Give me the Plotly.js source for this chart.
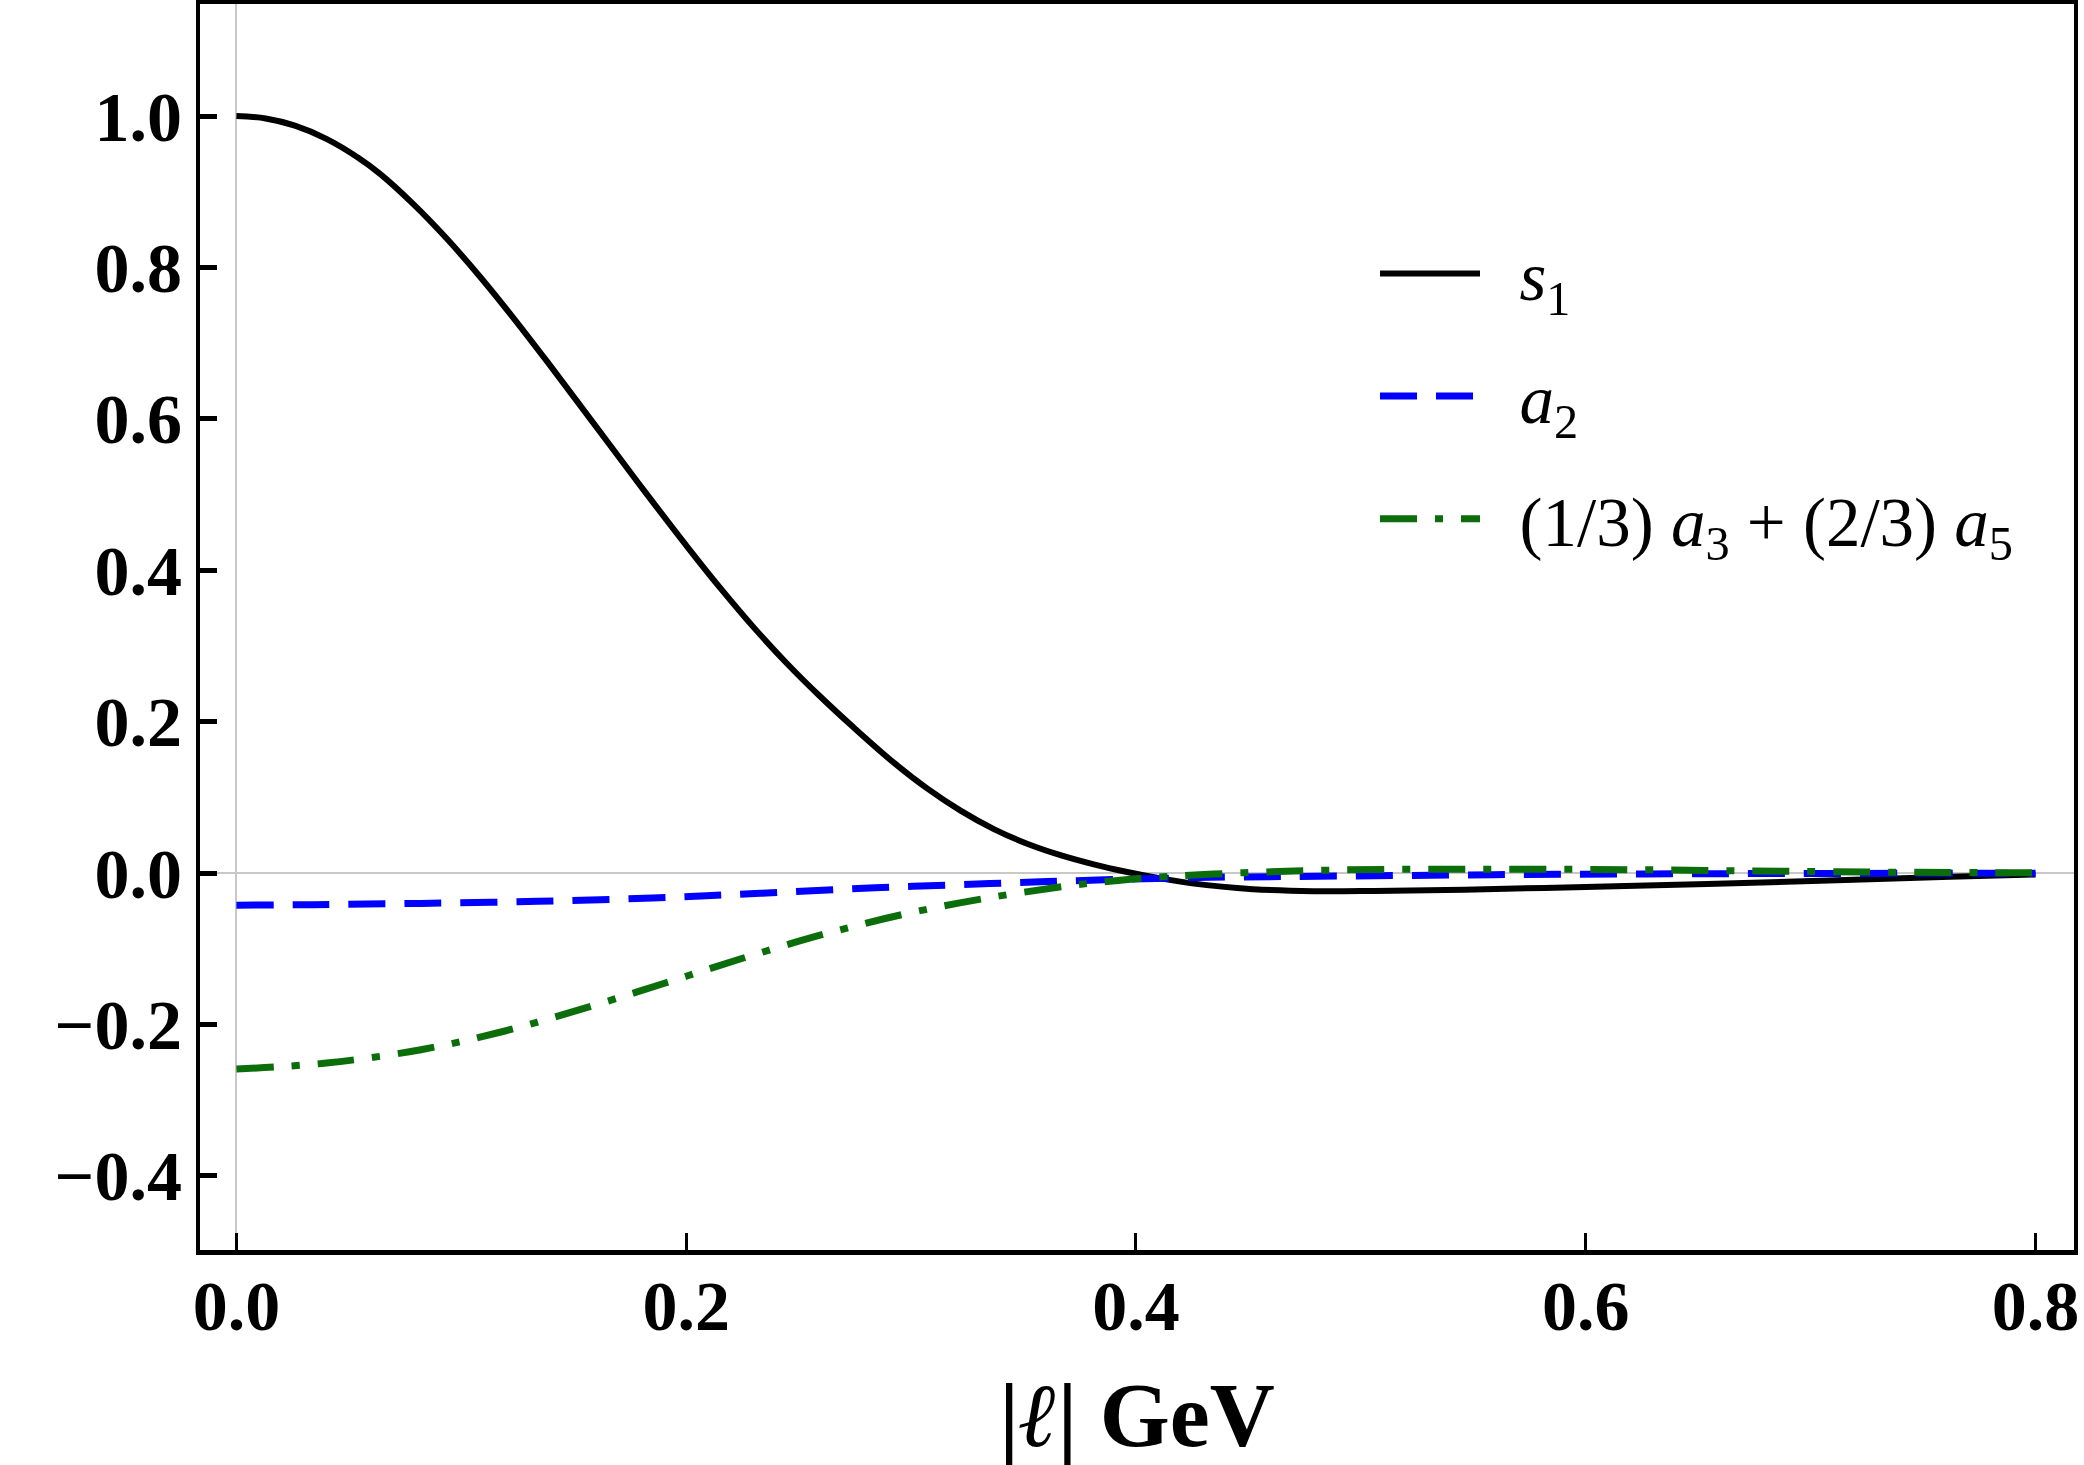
<!DOCTYPE html>
<html>
<head>
<meta charset="utf-8">
<script src="https://cdn.plot.ly/plotly-3.0.1.min.js"></script>
<style>html,body{margin:0;padding:0;background:#fff;}</style>
</head>
<body>
<div id="chart" style="width:2084px;height:1465px;"></div>
<script>
// ---- data ----
const s1X = [0, 0.013, 0.026, 0.040, 0.054, 0.064, 0.0789, 0.0937, 0.1085, 0.1233, 0.1382, 0.153, 0.1678, 0.1782, 0.1856, 0.2004, 0.2152, 0.230, 0.2449, 0.2597, 0.2745, 0.2923, 0.3071, 0.322, 0.3368, 0.3516, 0.3664, 0.3812, 0.3961, 0.408, 0.425, 0.452, 0.479, 0.506, 0.546, 0.600, 0.654, 0.708, 0.762, 0.800];
const s1Y = [1.000, 0.9968, 0.9873, 0.9699, 0.9453, 0.9233, 0.8830, 0.8375, 0.7871, 0.7328, 0.6755, 0.6171, 0.5584, 0.5173, 0.4883, 0.4313, 0.3763, 0.3245, 0.2765, 0.2328, 0.1921, 0.1458, 0.1118, 0.0824, 0.0580, 0.0387, 0.0236, 0.0115, 0.0014, -0.0055, -0.0137, -0.0213, -0.0240, -0.0237, -0.0220, -0.0184, -0.0145, -0.0100, -0.0050, -0.0020];

const a2X = [0, 0.034, 0.082, 0.134, 0.185, 0.233, 0.284, 0.335, 0.383, 0.433, 0.492, 0.559, 0.627, 0.694, 0.762, 0.800];
const a2Y = [-0.0425, -0.0418, -0.0401, -0.0374, -0.0330, -0.0268, -0.0195, -0.0140, -0.0092, -0.0057, -0.0040, -0.0022, -0.0012, -0.0006, -0.0004, -0.0004];

const a35X = [0, 0.040, 0.082, 0.119, 0.156, 0.190, 0.224, 0.261, 0.298, 0.335, 0.372, 0.392, 0.410, 0.448, 0.485, 0.523, 0.561, 0.599, 0.636, 0.674, 0.710, 0.748, 0.786, 0.800];
const a35Y = [-0.259, -0.251, -0.2334, -0.2090, -0.1775, -0.1459, -0.1136, -0.0810, -0.0536, -0.0325, -0.0162, -0.0098, -0.0053, 0.0004, 0.0037, 0.0050, 0.0051, 0.0048, 0.0040, 0.0027, 0.0017, 0.0009, 0.0004, 0.0003];

const seriesNames = [
  '<i>s</i><sub>1</sub>',
  '<i>a</i><sub>2</sub>',
  '(1/3) <i>a</i><sub>3</sub> + (2/3) <i>a</i><sub>5</sub>'
];
const xTicks = [0, 0.2, 0.4, 0.6, 0.8];
const yTicks = [-0.4, -0.2, 0.0, 0.2, 0.4, 0.6, 0.8, 1.0];
const xTitle = '|<i>ℓ</i>| GeV';

const FONT = '"Liberation Serif", "Times New Roman", serif';
const PAD = '\u00A0\u00A0';

const traces = [
  {x: s1X, y: s1Y, type: 'scatter', mode: 'lines', name: PAD + seriesNames[0], legendgroup: 'g1',
   line: {color: '#000000', width: 6, shape: 'spline', smoothing: 1}},
  {x: a2X, y: a2Y, type: 'scatter', mode: 'lines', name: PAD + seriesNames[1], legendgroup: 'g2',
   line: {color: '#0000ff', width: 7, dash: '37px,19px', shape: 'spline', smoothing: 1}},
  {x: a35X, y: a35Y, type: 'scatter', mode: 'lines', name: PAD + seriesNames[2], legendgroup: 'g3',
   line: {color: '#0b6e0b', width: 7, dash: '37px,18px,8px,18px', shape: 'spline', smoothing: 1}}
];

const layout = {
  width: 2084, height: 1465,
  margin: {l: 200, r: 10, t: 4, b: 215, pad: 0},
  paper_bgcolor: '#ffffff', plot_bgcolor: '#ffffff',
  showlegend: true,
  xaxis: {
    range: [-0.0162, 0.8171],
    tickvals: xTicks, tickformat: '.1f',
    ticks: 'inside', ticklen: 17, tickwidth: 3, tickcolor: '#000',
    ticklabelstandoff: -9,
    showline: true, linecolor: '#000', linewidth: 5, mirror: true,
    showgrid: false, zeroline: true, zerolinecolor: '#c8c8c8', zerolinewidth: 2,
    tickfont: {family: FONT, size: 70, color: '#000', weight: 'bold'},
    title: {text: xTitle, font: {family: FONT, size: 90, color: '#000', weight: 'bold'}}
  },
  yaxis: {
    range: [-0.498, 1.148],
    tickvals: yTicks, tickformat: '.1f',
    ticks: 'inside', ticklen: 17, tickwidth: 5, tickcolor: '#000',
    showline: true, linecolor: '#000', linewidth: 4, mirror: true,
    showgrid: false, zeroline: true, zerolinecolor: '#c8c8c8', zerolinewidth: 2,
    tickfont: {family: FONT, size: 70, color: '#000', weight: 'bold'}
  },
  legend: {
    x: 0.627, xanchor: 'left', y: 0.825, yanchor: 'top',
    bgcolor: 'rgba(0,0,0,0)', borderwidth: 0,
    font: {family: FONT, size: 69, color: '#000'},
    itemwidth: 100, traceorder: 'grouped', tracegroupgap: 30
  }
};

Plotly.newPlot('chart', traces, layout, {displayModeBar: false, staticPlot: true});
</script>
</body>
</html>
